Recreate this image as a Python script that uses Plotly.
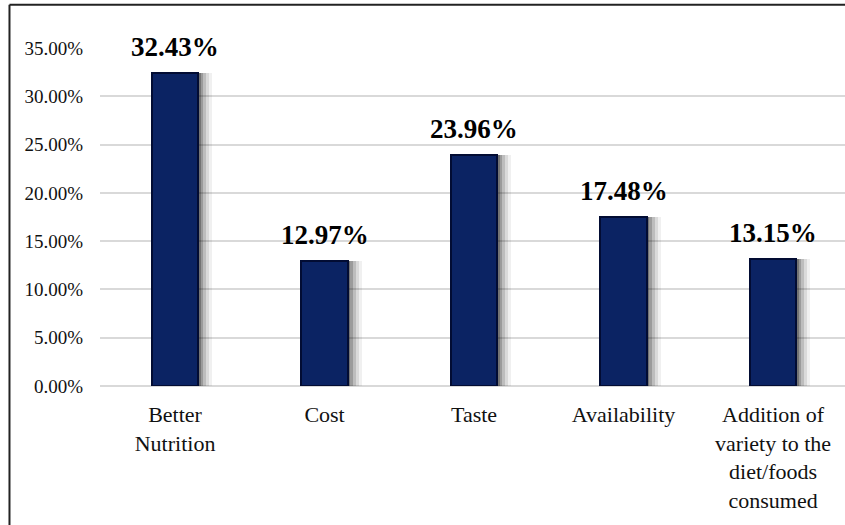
import plotly.graph_objects as go

categories = ["Better<br>Nutrition", "Cost", "Taste", "Availability",
              "Addition of<br>variety to the<br>diet/foods<br>consumed"]
values = [32.43, 12.97, 23.96, 17.48, 13.15]
tick_vals = [0, 5, 10, 15, 20, 25, 30, 35]
tick_text = ["0.00%", "5.00%", "10.00%", "15.00%", "20.00%", "25.00%", "30.00%", "35.00%"]

FONT = "'Liberation Serif', serif"
BAR_W = 0.31

fig = go.Figure()

# soft shadow layers (drawn behind the bars)
for shift, alpha in [(0.095, 0.06), (0.075, 0.09), (0.055, 0.13), (0.035, 0.18), (0.018, 0.25)]:
    fig.add_trace(go.Bar(
        x=categories, y=values, width=BAR_W, offset=-BAR_W / 2 + shift,
        marker=dict(color=f"rgba(0,0,0,{alpha})", line=dict(width=0)),
        hoverinfo="skip", showlegend=False,
    ))

fig.add_trace(go.Bar(
    x=categories, y=values, width=BAR_W, offset=-BAR_W / 2,
    marker=dict(color="#0b2363", line=dict(color="#020c33", width=2)),
    showlegend=False,
))

for c, v in zip(categories, values):
    fig.add_annotation(
        x=c, y=v, xref="x", yref="y", text=f"<b>{v:.2f}%</b>",
        showarrow=False, yanchor="bottom", yshift=9,
        font=dict(family=FONT, size=27, color="#000000"),
    )

# outer frame (left and top edges visible in the reference)
fig.add_shape(type="line", xref="paper", yref="paper",
              x0=-0.1215, x1=-0.1215, y0=1.128, y1=-0.42,
              line=dict(color="#222222", width=2))
fig.add_shape(type="line", xref="paper", yref="paper",
              x0=-0.1215, x1=1.01, y0=1.128, y1=1.128,
              line=dict(color="#222222", width=2))

fig.update_layout(
    width=845, height=525,
    margin=dict(l=100, r=0, t=48, b=139),
    paper_bgcolor="white", plot_bgcolor="white",
    barmode="overlay", bargap=0,
    font=dict(family=FONT, color="#111111"),
    xaxis=dict(
        type="category", range=[-0.502, 4.481],
        showgrid=False, showline=False, zeroline=False,
        ticks="", tickfont=dict(family=FONT, size=22, color="#111111"),
        ticklabelstandoff=13,
    ),
    yaxis=dict(
        range=[0, 35], tickvals=tick_vals, ticktext=tick_text,
        showgrid=True, gridcolor="#d9d9d9", gridwidth=1.5,
        zeroline=True, zerolinecolor="#d9d9d9", zerolinewidth=1.5,
        showline=False, ticks="",
        tickfont=dict(family=FONT, size=19, color="#111111"),
        ticklabelstandoff=16,
    ),
)

fig.write_html("out.html")
